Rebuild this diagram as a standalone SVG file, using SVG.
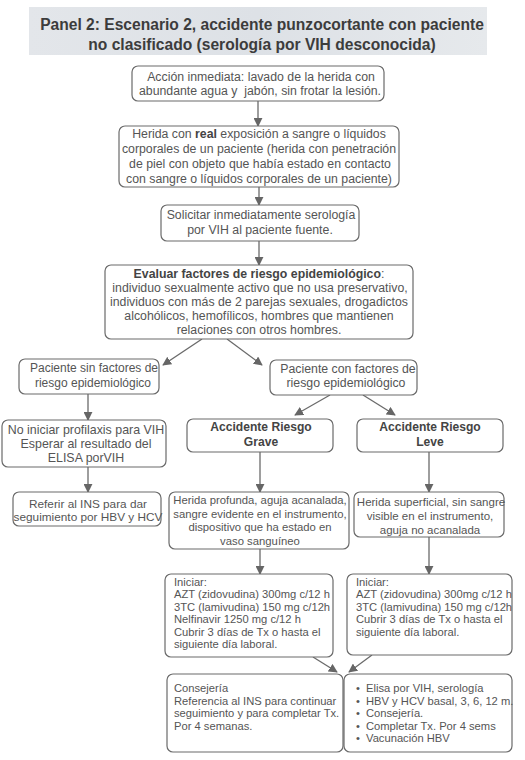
<svg xmlns="http://www.w3.org/2000/svg" width="525" height="760" viewBox="0 0 525 760">
<defs>
<linearGradient id="tg" x1="0" y1="0" x2="1" y2="0">
<stop offset="0" stop-color="#e3e6ea"/><stop offset="0.5" stop-color="#dde1e6"/><stop offset="1" stop-color="#e6e9ec"/>
</linearGradient>
<marker id="ah" viewBox="0 0 10 10" refX="9" refY="5" markerWidth="9" markerHeight="9" markerUnits="userSpaceOnUse" orient="auto">
<path d="M0,0 L10,5 L0,10 z" fill="#666"/>
</marker>
<style>
.b{fill:#fff;stroke:#6a6a6a;stroke-width:1.2}
.t{font-family:"Liberation Sans",Arial,sans-serif;font-size:12.3px;fill:#555}
.c{text-anchor:middle}
.bo{font-weight:bold;fill:#444}
.s{font-size:11.2px}
.ttl{font-family:"Liberation Sans",Arial,sans-serif;font-size:15.6px;font-weight:bold;fill:#3c3c3c;text-anchor:middle}
.cn{stroke:#6a6a6a;stroke-width:1.3;fill:none;marker-end:url(#ah)}
</style>
</defs>
<rect width="525" height="760" fill="#fff"/>
<g id="title">
<rect x="29" y="7" width="458" height="48" fill="url(#tg)"/>
<text class="ttl" x="262" y="30">Panel 2: Escenario 2, accidente punzocortante con paciente</text>
<text class="ttl" x="262" y="50">no clasificado (serología por VIH desconocida)</text>
</g>
<g id="connectors">
<line class="cn" x1="258" y1="101" x2="258" y2="126"/>
<line class="cn" x1="259" y1="187" x2="259" y2="205"/>
<line class="cn" x1="259" y1="241" x2="259" y2="265"/>
<line class="cn" x1="202" y1="339" x2="163" y2="365"/>
<line class="cn" x1="227" y1="339" x2="262" y2="365"/>
<line class="cn" x1="88" y1="394" x2="88" y2="420"/>
<line class="cn" x1="330" y1="395" x2="295" y2="415"/>
<line class="cn" x1="363" y1="395" x2="395" y2="415"/>
<line class="cn" x1="88" y1="467" x2="88" y2="492"/>
<line class="cn" x1="260" y1="452" x2="260" y2="492"/>
<line class="cn" x1="429" y1="452" x2="429" y2="492"/>
<line class="cn" x1="260" y1="549" x2="260" y2="574"/>
<line class="cn" x1="429" y1="537" x2="429" y2="574"/>
<line class="cn" x1="313" y1="657" x2="337" y2="672"/>
<line class="cn" x1="372" y1="655" x2="349" y2="672"/>
</g>
<g id="n1">
<rect class="b" x="132" y="66" width="252" height="35" rx="6"/>
<text class="t c" x="261" y="81">Acción inmediata: lavado de la herida con</text>
<text class="t c" x="260" y="95" xml:space="preserve">abundante agua y  jabón, sin frotar la lesión.</text>
</g>
<g id="n2">
<rect class="b" x="119" y="126" width="280" height="61" rx="6"/>
<text class="t c" x="259" y="138">Herida con <tspan class="bo">real</tspan> exposición a sangre o líquidos</text>
<text class="t c" x="259" y="153">corporales de un paciente (herida con penetración</text>
<text class="t c" x="260" y="168">de piel con objeto que había estado en contacto</text>
<text class="t c" x="259" y="183">con sangre o líquidos corporales de un paciente)</text>
</g>
<g id="n3">
<rect class="b" x="161" y="205" width="198" height="36" rx="6"/>
<text class="t c" x="261" y="219">Solicitar inmediatamente serología</text>
<text class="t c" x="260" y="234">por VIH al paciente fuente.</text>
</g>
<g id="n4">
<rect class="b" x="105" y="265" width="308" height="74" rx="6"/>
<text class="t c" x="259" y="278"><tspan class="bo">Evaluar factores de riesgo epidemiológico</tspan>:</text>
<text class="t c" x="260" y="292">individuo sexualmente activo que no usa preservativo,</text>
<text class="t c" x="259" y="306">individuos con más de 2 parejas sexuales, drogadictos</text>
<text class="t c" x="259" y="320">alcohólicos, hemofílicos, hombres que mantienen</text>
<text class="t c" x="259" y="334">relaciones con otros hombres.</text>
</g>
<g id="n5">
<rect class="b" x="19" y="359" width="140" height="35" rx="6"/>
<text class="t c" x="94" y="372" style="font-size:12px">Paciente sin factores de</text>
<text class="t c" x="93" y="387" style="font-size:12px">riesgo epidemiológico</text>
</g>
<g id="n6">
<rect class="b" x="270" y="360" width="147" height="35" rx="6"/>
<text class="t c" x="348" y="373">Paciente con factores de</text>
<text class="t c" x="346" y="387">riesgo epidemiológico</text>
</g>
<g id="n7">
<rect class="b" x="2" y="420" width="164" height="47" rx="6"/>
<text class="t c" x="86" y="434" style="font-size:12.4px">No iniciar profilaxis para VIH</text>
<text class="t c" x="86" y="448" style="font-size:12.4px">Esperar al resultado del</text>
<text class="t c" x="86" y="462" style="font-size:12.4px">ELISA porVIH</text>
</g>
<g id="n8">
<rect class="b" x="187" y="419" width="146" height="33" rx="6"/>
<text class="t c bo" x="261" y="431" style="font-size:12.1px">Accidente Riesgo</text>
<text class="t c bo" x="261" y="446" style="font-size:12.1px">Grave</text>
</g>
<g id="n9">
<rect class="b" x="357" y="419" width="146" height="33" rx="6"/>
<text class="t c bo" x="430" y="431" style="font-size:12.1px">Accidente Riesgo</text>
<text class="t c bo" x="430" y="446" style="font-size:12.1px">Leve</text>
</g>
<g id="n10">
<rect class="b" x="13" y="492" width="148" height="34" rx="6"/>
<text class="t c" x="88" y="508" style="font-size:11.8px">Referir al INS para dar</text>
<text class="t c" x="88" y="521" style="font-size:11.8px">seguimiento por HBV y HCV</text>
</g>
<g id="n11">
<rect class="b" x="169" y="492" width="180" height="57" rx="6"/>
<text class="t c" x="260" y="504" style="font-size:11.3px">Herida profunda, aguja acanalada,</text>
<text class="t c" x="260" y="518" style="font-size:11.3px">sangre evidente en el instrumento,</text>
<text class="t c" x="260" y="531" style="font-size:11.3px">dispositivo que ha estado en</text>
<text class="t c" x="260" y="545" style="font-size:11.3px">vaso sanguíneo</text>
</g>
<g id="n12">
<rect class="b" x="354" y="492" width="150" height="45" rx="6"/>
<text class="t c" x="431" y="506" style="font-size:11.5px">Herida superficial, sin sangre</text>
<text class="t c" x="430" y="520" style="font-size:11.5px">visible en el instrumento,</text>
<text class="t c" x="430" y="534" style="font-size:11.5px">aguja no acanalada</text>
</g>
<g id="n13">
<rect class="b" x="165" y="574" width="168" height="83" rx="6"/>
<text class="t s" x="174" y="586">Iniciar:</text>
<text class="t s" x="174" y="598">AZT (zidovudina) 300mg c/12 h</text>
<text class="t s" x="174" y="611">3TC (lamivudina) 150 mg c/12h</text>
<text class="t s" x="174" y="623">Nelfinavir 1250 mg c/12 h</text>
<text class="t s" x="174" y="636">Cubrir 3 días de Tx o hasta el</text>
<text class="t s" x="174" y="648">siguiente día laboral.</text>
</g>
<g id="n14">
<rect class="b" x="347" y="574" width="165" height="81" rx="6"/>
<text class="t s" x="356" y="586">Iniciar:</text>
<text class="t s" x="356" y="598">AZT (zidovudina) 300mg c/12 h</text>
<text class="t s" x="356" y="611">3TC (lamivudina) 150 mg c/12h</text>
<text class="t s" x="356" y="623">Cubrir 3 días de Tx o hasta el</text>
<text class="t s" x="356" y="636">siguiente día laboral.</text>
</g>
<g id="n15">
<rect class="b" x="167" y="674" width="176" height="78" rx="6"/>
<text class="t s" x="174" y="692">Consejería</text>
<text class="t s" x="174" y="705">Referencia al INS para continuar</text>
<text class="t s" x="174" y="717">seguimiento y para completar Tx.</text>
<text class="t s" x="174" y="730">Por 4 semanas.</text>
</g>
<g id="n16">
<rect class="b" x="344" y="674" width="168" height="78" rx="6"/>
<text class="t s" x="356" y="692">•</text><text class="t s" x="366" y="692">Elisa por VIH, serología</text>
<text class="t s" x="356" y="705">•</text><text class="t s" x="366" y="705">HBV y HCV basal, 3, 6, 12 m.</text>
<text class="t s" x="356" y="717">•</text><text class="t s" x="366" y="717">Consejería.</text>
<text class="t s" x="356" y="730">•</text><text class="t s" x="366" y="730">Completar Tx. Por 4 sems</text>
<text class="t s" x="356" y="742">•</text><text class="t s" x="366" y="742">Vacunación HBV</text>
</g>
</svg>
